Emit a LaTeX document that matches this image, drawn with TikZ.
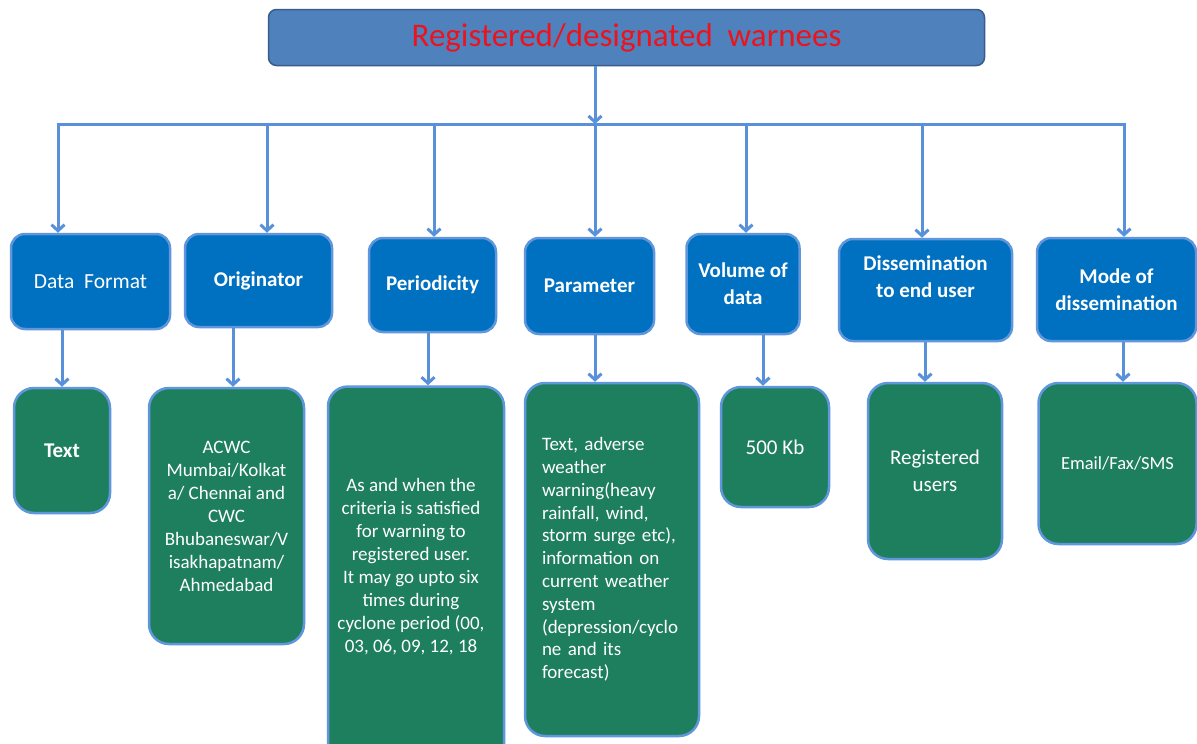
\documentclass[tikz,border=0pt]{standalone}
\usepackage{fontspec}
\setmainfont{Carlito}
\usetikzlibrary{arrows.meta,calc}
\definecolor{connc}{RGB}{88,145,218}
\definecolor{bordc}{RGB}{96,150,220}
\definecolor{bluec}{RGB}{0,112,192}
\definecolor{greenc}{RGB}{30,127,94}
\definecolor{topfill}{RGB}{79,129,189}
\definecolor{topbord}{RGB}{56,93,138}
\definecolor{titlered}{RGB}{235,20,30}
\begin{document}
\begin{tikzpicture}[x=1pt,y=-1pt,
  link/.style={draw=connc, line width=3pt},
  conn/.style={link, -{Straight Barb[length=6pt,width=13pt]}},
  bluebox/.style={draw=bordc, line width=2.5pt, fill=bluec, rounded corners=14pt,
    text=white, align=center, inner sep=0pt, font=\fontsize{21}{27}\selectfont\bfseries},
  greenbox/.style={draw=bordc, line width=2.5pt, fill=greenc, rounded corners=20pt,
    text=white, align=center, inner sep=0pt, font=\fontsize{19}{23}\selectfont},
  plaintext/.style={text=white, align=center, inner sep=0pt, font=\fontsize{19}{23}\selectfont},
]
\useasboundingbox (0,0) rectangle (1197,744);
\clip (0,0) rectangle (1197,744);
\fill[white] (0,0) rectangle (1197,744);

% top box
\node[draw=topbord, line width=1.5pt, fill=topfill, rounded corners=8pt,
  minimum width=716pt, minimum height=56pt, inner sep=0pt,
  text=titlered, font=\fontsize{33}{36}\selectfont] (top) at (626.5,37.5) {Registered/designated\ \ warnees};

% blue boxes
\node[bluebox, minimum width=159pt, minimum height=95pt, font=\fontsize{21.5}{27}\selectfont] (df) at (90.5,281.5) {Data\ \ Format};
\node[bluebox, minimum width=147pt, minimum height=93pt] (or) at (258.5,280.5) {Originator};
\node[bluebox, minimum width=127pt, minimum height=94pt] (pe) at (432.5,285) {Periodicity};
\node[bluebox, minimum width=129pt, minimum height=96pt] (pa) at (589.5,286) {Parameter};
\node[bluebox, minimum width=113pt, minimum height=100pt] (vo) at (743,284) {Volume of\\data};
\node[bluebox, minimum width=173pt, minimum height=102pt] (di) at (925.5,290) {};
\node[plaintext, font=\fontsize{21}{27}\selectfont\bfseries] (dit) at (925.5,276.5) {Dissemination\\to end user};
\node[bluebox, minimum width=159pt, minimum height=103pt] (mo) at (1116.5,289.5) {Mode of\\dissemination};

% green boxes
\node[greenbox, minimum width=96pt, minimum height=125pt, font=\fontsize{21}{25}\selectfont\bfseries] (g1) at (62,450.5) {Text};
\node[greenbox, minimum width=155pt, minimum height=256pt] (g2) at (226.5,516) {ACWC\\Mumbai/Kolkat\\a/ Chennai and\\CWC\\Bhubaneswar/V\\isakhapatnam/\\Ahmedabad};
\node[greenbox, minimum width=176pt, minimum height=401pt] (g3) at (416,587) {};
\node[plaintext] (g3t) at (411,567) {As and when the\\criteria is satisfied\\for warning to\\registered user.\\It may go upto six\\times during\\cyclone period (00,\\03, 06, 09, 12, 18};
\node[greenbox, minimum width=174pt, minimum height=353pt] (g4) at (612,559.5) {};
\node[plaintext, align=left, text width=140pt, font=\fontsize{19}{22.8}\selectfont] (g4t) at (612,559.5) {Text, adverse\\weather\\warning(heavy\\rainfall, wind,\\storm surge etc),\\information on\\current weather\\system\\(depression/cyclo\\ne and its\\forecast)};
\node[greenbox, minimum width=108pt, minimum height=120pt, font=\fontsize{21}{27}\selectfont] (g5) at (775,447) {500 Kb};
\node[greenbox, minimum width=134pt, minimum height=176pt, font=\fontsize{21}{27}\selectfont] (g6) at (935,471) {Registered\\users};
\node[greenbox, minimum width=158pt, minimum height=161pt, font=\fontsize{18.5}{23}\selectfont] (g7) at (1117.5,463.5) {Email/Fax/SMS};

% bus
\coordinate (b1) at (58,124);
\coordinate (b2) at (267,124);
\coordinate (b3) at (434,124);
\coordinate (b4) at (595,124);
\coordinate (b5) at (746,124);
\coordinate (b6) at (922,124);
\coordinate (b7) at (1124,124);
\draw[conn] (b4 |- top.south) -- (b4);
\draw[link, line cap=rect] (b1) -- (b7);
\draw[conn] (b1) -- (b1 |- df.north);
\draw[conn] (b2) -- (b2 |- or.north);
\draw[conn] (b3) -- (b3 |- pe.north);
\draw[conn] (b4) -- (b4 |- pa.north);
\draw[conn] (b5) -- (b5 |- vo.north);
\draw[conn] (b6) -- (b6 |- di.north);
\draw[conn] (b7) -- (b7 |- mo.north);

% drops to green
\coordinate (x1) at (62,0);
\coordinate (x2) at (233,0);
\coordinate (x3) at (428,0);
\coordinate (x4) at (595,0);
\coordinate (x5) at (763,0);
\coordinate (x6) at (925,0);
\coordinate (x7) at (1123,0);
\draw[conn] (x1 |- df.south) -- (x1 |- g1.north);
\draw[conn] (x2 |- or.south) -- (x2 |- g2.north);
\draw[conn] (x3 |- pe.south) -- (x3 |- g3.north);
\draw[conn] (x4 |- pa.south) -- (x4 |- g4.north);
\draw[conn] (x5 |- vo.south) -- (x5 |- g5.north);
\draw[conn] (x6 |- di.south) -- (x6 |- g6.north);
\draw[conn] (x7 |- mo.south) -- (x7 |- g7.north);
\end{tikzpicture}
\end{document}
